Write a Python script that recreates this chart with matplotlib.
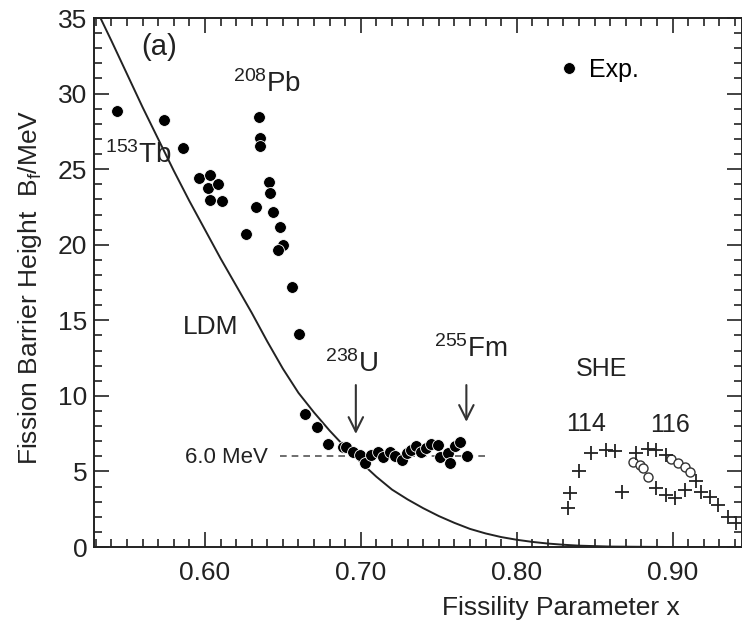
import matplotlib
matplotlib.use('Agg')
import matplotlib.pyplot as plt
import numpy as np

plt.rcParams['font.family'] = ['Liberation Sans', 'DejaVu Sans']
plt.rcParams['mathtext.fontset'] = 'custom'
plt.rcParams['mathtext.rm'] = 'Liberation Sans'
plt.rcParams['mathtext.it'] = 'Liberation Sans:italic'
plt.rcParams['mathtext.default'] = 'regular'

# LDM barrier curve
x_ldm = [0.533, 0.540, 0.550, 0.560, 0.570, 0.580, 0.590, 0.600, 0.610, 0.620,
         0.630, 0.640, 0.650, 0.660, 0.670, 0.680, 0.690, 0.700, 0.710, 0.720,
         0.730, 0.740, 0.750, 0.760, 0.770, 0.780, 0.790, 0.800, 0.810, 0.820,
         0.830, 0.840, 0.860, 0.900, 0.945]
b_ldm = [35.0, 33.5, 31.3, 29.1, 27.0, 24.9, 22.9, 21.0, 19.1, 17.3,
         15.5, 13.6, 11.8, 10.2, 8.9, 7.7, 6.6, 5.6, 4.65, 3.8,
         3.15, 2.57, 2.05, 1.6, 1.2, 0.9, 0.66, 0.48, 0.34, 0.23,
         0.15, 0.09, 0.03, 0.0, 0.0]

# experimental barriers: light nuclei, Pb region, actinides
x_light = [0.5434, 0.5737, 0.5857, 0.5960, 0.6032, 0.6020, 0.6085, 0.6032, 0.6107]
b_light = [28.87, 28.26, 26.39, 24.40, 24.62, 23.74, 24.02, 22.96, 22.92]

x_pb = [0.6346, 0.6353, 0.6353, 0.6410, 0.6417, 0.6325, 0.6438, 0.6481, 0.6498,
        0.6470, 0.6261, 0.6556]
b_pb = [28.48, 27.05, 26.50, 24.18, 23.45, 22.52, 22.19, 21.16, 19.99,
        19.66, 20.69, 17.23]

x_act = [0.6605, 0.6641, 0.6720, 0.6790, 0.6887, 0.6908, 0.6951, 0.6994, 0.7026, 0.7068,
         0.7111, 0.7143, 0.7186, 0.7218, 0.7261, 0.7293, 0.7325, 0.7357, 0.7389, 0.7421,
         0.7453, 0.7496, 0.7506, 0.7560, 0.7571, 0.7603, 0.7635, 0.7682]
b_act = [14.10, 8.80, 7.92, 6.82, 6.60, 6.64, 6.31, 6.09, 5.58, 6.09,
         6.31, 5.93, 6.31, 6.02, 5.76, 6.20, 6.42, 6.68, 6.31, 6.53,
         6.82, 6.75, 5.98, 6.20, 5.58, 6.68, 6.97, 6.02]

# superheavy elements: calculated (+) and open symbols
x_she = [0.8329, 0.8344, 0.8400, 0.8479, 0.8575, 0.8628, 0.8677, 0.8767, 0.8842, 0.8895,
         0.8959, 0.8895, 0.8959, 0.9013, 0.9077, 0.9150, 0.9184, 0.9237, 0.9290, 0.9354,
         0.9408]
b_she = [2.56, 3.59, 5.05, 6.22, 6.42, 6.37, 3.66, 6.24, 6.47, 6.42,
         6.09, 3.88, 3.44, 3.22, 3.77, 4.40, 3.66, 3.33, 2.78, 2.00,
         1.57]
x_open = [0.8746, 0.8790, 0.8810, 0.8842, 0.8991, 0.9034, 0.9077, 0.9110]
b_open = [5.65, 5.40, 5.21, 4.65, 5.82, 5.54, 5.27, 4.98]

x_exp = x_light + x_pb + x_act
b_exp = b_light + b_pb + b_act

fig = plt.figure(figsize=(7.42, 6.30), dpi=100)
ax = fig.add_axes([0.127, 0.1317, 0.873, 0.8397])

ax.plot(x_ldm, b_ldm, color='#222222', lw=1.4)
ax.plot([0.648, 0.781], [6.0, 6.0], color='#555555', lw=1.2, dashes=(4, 3))

ax.plot(x_exp, b_exp, 'o', color='black', ms=8.5, mec='white', mew=0.6,
        label='Exp.', zorder=5)
ax.plot(x_open, b_open, 'o', mfc='white', mec='#333333', ms=6.5, mew=1.0, zorder=4)
ax.plot(x_she, b_she, '+', color='#222222', ms=10, mew=1.3, zorder=4)

# arrows for 238U and 255Fm
ax.annotate('', xy=(0.6968, 7.3), xytext=(0.6968, 10.9),
            arrowprops=dict(arrowstyle='->', color='#333333', lw=1.5, mutation_scale=26))
ax.annotate('', xy=(0.7677, 8.1), xytext=(0.7677, 10.9),
            arrowprops=dict(arrowstyle='->', color='#333333', lw=1.5, mutation_scale=26))

tc = '#222222'
ax.text(0.5705, 33.1, '(a)', fontsize=21, ha='center', va='center', color=tc)
ax.text(0.6397, 30.6, '$^{208}$Pb', fontsize=20, ha='center', va='center', color=tc)
ax.text(0.5574, 25.9, '$^{153}$Tb', fontsize=20, ha='center', va='center', color=tc)
ax.text(0.6038, 14.56, 'LDM', fontsize=19, ha='center', va='center', color=tc)
ax.text(0.6135, 5.9, '6.0 MeV', fontsize=16, ha='center', va='center', color=tc)
ax.text(0.6939, 12.1, '$^{238}$U', fontsize=20, ha='center', va='center', color=tc)
ax.text(0.7705, 13.1, '$^{255}$Fm', fontsize=20, ha='center', va='center', color=tc)
ax.text(0.8545, 11.78, 'SHE', fontsize=18, ha='center', va='center', color=tc)
ax.text(0.8442, 8.14, '114', fontsize=18, ha='center', va='center', color=tc)
ax.text(0.8981, 8.07, '116', fontsize=18, ha='center', va='center', color=tc)

ax.legend(loc='upper left', bbox_to_anchor=(0.718, 0.925), frameon=False,
          fontsize=18, handlelength=0.8, handletextpad=0.4,
          borderpad=0, borderaxespad=0, markerscale=1.0)

ax.set_xlim(0.529, 0.9445)
ax.set_ylim(0, 35)

ax.set_xticks([0.60, 0.70, 0.80, 0.90])
ax.set_xticklabels(['0.60', '0.70', '0.80', '0.90'])
ax.set_xticks(np.arange(0.53, 0.945, 0.01), minor=True)
ax.set_yticks(np.arange(0, 36, 5))
ax.set_yticks(np.arange(0, 36, 1), minor=True)

ax.tick_params(which='both', direction='in', top=True, right=True,
               labelsize=19, colors='#222222', width=1.2)
ax.tick_params(which='major', length=11)
ax.tick_params(which='minor', length=6)
ax.tick_params(axis='x', which='major', pad=10)
ax.tick_params(axis='y', which='major', pad=5)

for s in ax.spines.values():
    s.set_linewidth(1.4)
    s.set_color('#222222')

ax.set_xlabel('Fissility Parameter x', fontsize=19, color=tc)
ax.xaxis.set_label_coords(0.72, -0.093)
ax.set_ylabel('Fission Barrier Height  B$_f$/MeV', fontsize=19, color=tc)
ax.yaxis.set_label_coords(-0.077, 0.49)

fig.savefig('out.png', dpi=100)
